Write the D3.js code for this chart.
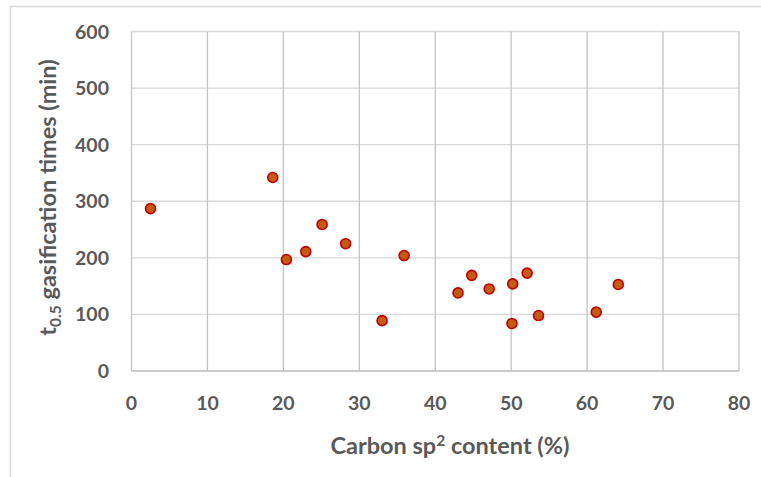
<!DOCTYPE html>
<html><head><meta charset="utf-8">
<script src="https://cdn.jsdelivr.net/npm/d3@7"></script>
<style>body{margin:0;background:#fff}svg{display:block}text{font-family:Lato,"Open Sans",sans-serif;font-weight:bold;fill:#595959}</style>
</head><body>
<script>
const sp2Content = [2.5, 18.6, 20.4, 22.95, 25.1, 28.2, 33.0, 35.9, 43.0, 44.8, 47.1, 50.2, 50.1, 52.1, 53.6, 61.2, 64.1];
const t05Times   = [287, 342, 197, 211, 259, 225, 89, 204, 138, 169, 145, 154, 84, 173, 98, 104, 153];
const xTicks = [0, 10, 20, 30, 40, 50, 60, 70, 80];
const yTicks = [0, 100, 200, 300, 400, 500, 600];

const W = 761, H = 477;
const svg = d3.select("body").append("svg").attr("width", W).attr("height", H);
const x = d3.scaleLinear().domain([0, 80]).range([131.5, 739]);
const y = d3.scaleLinear().domain([0, 600]).range([371, 31.5]);

// outer frame
svg.append("path").attr("d", `M10.5,${H} V6.5 H${W}`).attr("fill", "none").attr("stroke", "#d9d9d9").attr("stroke-width", 1.5);

// horizontal gridlines
svg.append("g").selectAll("line").data(yTicks).join("line")
  .attr("x1", x(0)).attr("x2", x(80)).attr("y1", d => y(d)).attr("y2", d => y(d))
  .attr("stroke", "#d9d9d9").attr("stroke-width", 1.3);
// vertical gridlines
svg.append("g").selectAll("line").data(xTicks).join("line")
  .attr("y1", y(0)).attr("y2", y(600)).attr("x1", d => x(d)).attr("x2", d => x(d))
  .attr("stroke", "#c3c3c3").attr("stroke-width", 1.3);
// bottom axis line
svg.append("line").attr("x1", x(0)).attr("x2", x(80)).attr("y1", y(0)).attr("y2", y(0))
  .attr("stroke", "#c3c3c3").attr("stroke-width", 1.3);

// tick labels
svg.append("g").selectAll("text").data(yTicks).join("text")
  .attr("x", 109).attr("y", d => y(d) + 7).attr("text-anchor", "end")
  .attr("font-size", 19.5).text(d => d);
svg.append("g").selectAll("text").data(xTicks).join("text")
  .attr("x", d => x(d)).attr("y", 410).attr("text-anchor", "middle")
  .attr("font-size", 19.5).text(d => d);

// axis titles
const xt = svg.append("text").attr("x", 450).attr("y", 454).attr("text-anchor", "middle").attr("font-size", 23.5);
xt.append("tspan").text("Carbon sp");
xt.append("tspan").attr("dy", -8).attr("font-size", 15.5).text("2");
xt.append("tspan").attr("dy", 8).text(" content (%)");

const yt = svg.append("text").attr("transform", "translate(56,197.5) rotate(-90)").attr("text-anchor", "middle").attr("font-size", 23.5);
yt.append("tspan").text("t");
yt.append("tspan").attr("dy", 5).attr("font-size", 15.5).text("0.5");
yt.append("tspan").attr("dy", -5).text(" gasification times (min)");

// points
svg.append("g").selectAll("circle").data(sp2Content.map((v, i) => [v, t05Times[i]])).join("circle")
  .attr("cx", d => x(d[0])).attr("cy", d => y(d[1])).attr("r", 5)
  .attr("fill", "#c55a11").attr("stroke", "#c00000").attr("stroke-width", 1.6);
</script>
</body></html>
